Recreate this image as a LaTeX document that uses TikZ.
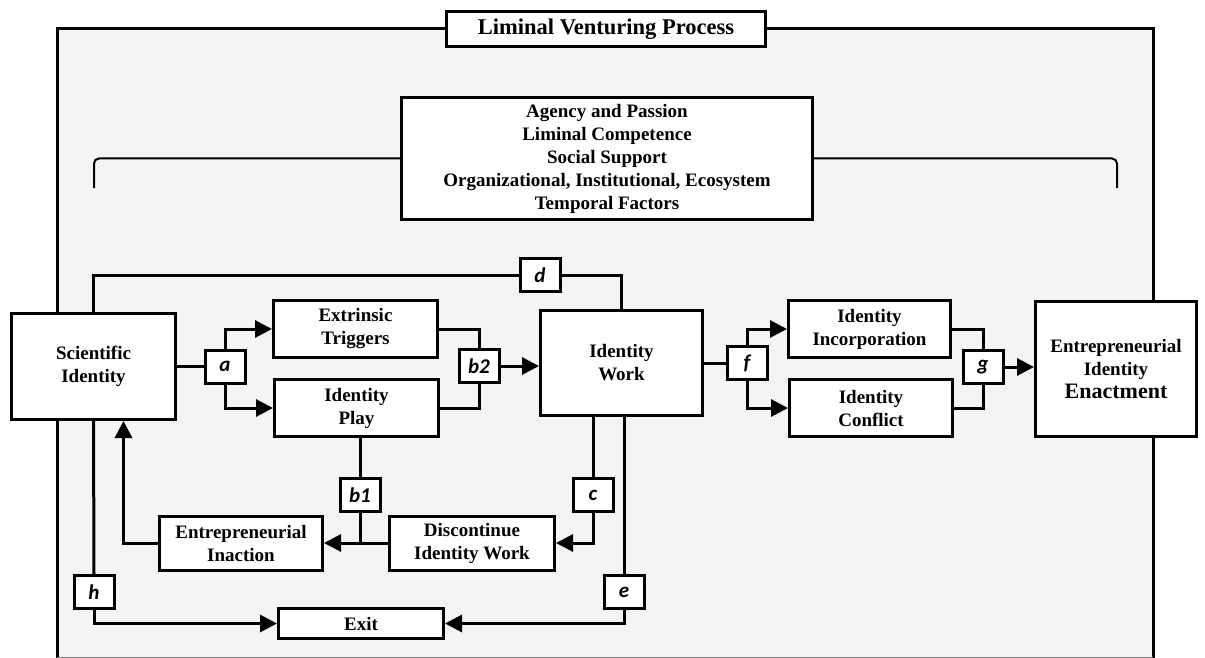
\documentclass[tikz,border=0pt]{standalone}
\usepackage{fontspec}
\setmainfont{Liberation Serif}
\newfontfamily\lblfont{Carlito}
\usepackage{tikz}
\usetikzlibrary{arrows.meta}
\definecolor{framefill}{RGB}{243,245,244}

\tikzset{
  box/.style={rectangle, draw, fill=white, line width=3pt, inner sep=0pt, align=center,
    font=\fontsize{19}{23}\selectfont\bfseries},
  lbl/.style={rectangle, draw, fill=white, line width=3pt, inner sep=0pt,
    minimum width=40pt, minimum height=33pt, font=\fontsize{21}{22}\selectfont\lblfont\bfseries\itshape},
  conn/.style={line width=3pt},
  arr/.style={conn, -{Triangle[length=17pt,width=17pt]}},
  brace/.style={line width=2pt, rounded corners=5pt},
}

\begin{document}
\begin{tikzpicture}[x=1pt, y=-1pt]
            \useasboundingbox (0,0) rectangle (1205,658);
            % Frame
            \fill[framefill] (57,29) rectangle (1153,658);
            \node[box, font=\fontsize{22.5}{26}\selectfont\bfseries, minimum width=319pt, minimum height=35pt] (title) at (606,29) {Liminal Venturing Process};
            \draw[conn] (title.west) -| (57,658);
            \draw[conn] (title.east) -| (1153,658);
            \draw[gray, line width=1pt] (57,657.5) -- (1153,657.5);

            % Nodes
            \node[box, minimum width=411pt, minimum height=122pt] (factors) at (607,158.5) {Agency and Passion\\Liminal Competence\\Social Support\\Organizational, Institutional, Ecosystem\\Temporal Factors};
            \coordinate (lbr) at (94,188);
            \coordinate (rbr) at (1117,188);
            \node[box, minimum width=164pt, minimum height=106pt] (sci) at (93.5,366.5) {Scientific\\Identity};
            \node[box, minimum width=164pt, minimum height=57pt] (ext) at (355.5,329) {Extrinsic\\Triggers};
            \node[box, minimum width=164pt, minimum height=57pt] (play) at (356.5,408) {Identity\\Play};
            \node[box, minimum width=162pt, minimum height=105pt] (work) at (621.5,363) {Identity\\Work};
            \node[box, minimum width=163pt, minimum height=54pt] (inaction) at (241,543) {Entrepreneurial\\Inaction};
            \node[box, minimum width=165pt, minimum height=54pt] (discont) at (472,543) {Discontinue\\Identity Work};
            \node[box, minimum width=165pt, minimum height=30pt] (exit) at (361,623.5) {Exit};
            \node[box, minimum width=162pt, minimum height=57pt] (incorp) at (869.5,329) {Identity\\Incorporation};
            \node[box, minimum width=163pt, minimum height=57pt] (conflict) at (871,408) {Identity\\Conflict};
            \node[box, minimum width=161pt, minimum height=135pt] (enact) at (1116,369) {Entrepreneurial\\Identity\\{\fontsize{22}{26}\selectfont Enactment}};

            \node[lbl] (a) at (225,366.5) {a};
            \node[lbl] (b2) at (479,366) {b2};
            \node[lbl] (b1) at (360,495) {b1};
            \node[lbl] (c) at (593,495) {c};
            \node[lbl] (d) at (540,275) {d};
            \node[lbl] (e) at (624,592) {e};
            \node[lbl] (f) at (747,363) {f};
            \node[lbl] (g) at (983,367) {g};
            \node[lbl] (h) at (94,592) {h};

            % Edges
            \draw[brace] (factors.west) -| (lbr);
            \draw[brace] (factors.east) -| (rbr);
            \draw[conn] (sci.east) -- (a.west);
            \draw[arr] (a.north) |- (ext.west);
            \draw[arr] (a.south) |- (play.west);
            \draw[conn] (ext.east) -| (b2.north);
            \draw[conn] (play.east) -| (b2.south);
            \draw[arr] (b2.east) -- (b2.east -| work.west);
            \draw[conn] (b1.north |- play.south) -- (b1.north);
            \draw[conn] (b1.south) -- (b1.south |- discont.west);
            \draw[arr] (discont.west) -- (inaction.east);
            \draw[arr] (inaction.west) -| ([xshift=30pt]sci.south);
            \draw[conn] (c.north |- work.south) -- (c.north);
            \draw[arr] (c.south) |- (discont.east);
            \draw[conn] (e.north |- work.south) -- (e.north);
            \draw[arr] (e.south) |- (exit.east);
            \draw[conn] (sci.south) -- (h.north);
            \draw[arr] (h.south) |- (exit.west);
            \draw[conn] (sci.north) |- (d.west);
            \draw[conn] (d.east) -| (work.north);
            \draw[conn] (work.east) -- (f.west);
            \draw[arr] (f.north) |- (incorp.west);
            \draw[arr] (f.south) |- (conflict.west);
            \draw[conn] (incorp.east) -| (g.north);
            \draw[conn] (conflict.east) -| (g.south);
            \draw[arr] (g.east) -- (g.east -| enact.west);
        \end{tikzpicture}
\end{document}
